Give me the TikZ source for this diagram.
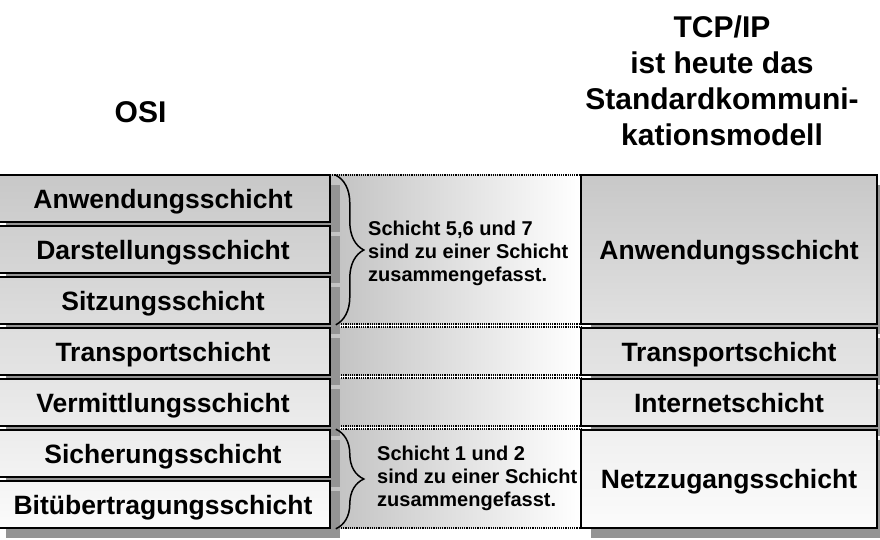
\documentclass[tikz,border=0pt]{standalone}
\usepackage{fontspec}
\setmainfont{Liberation Sans}
\usetikzlibrary{shadows,decorations.pathreplacing}
\begin{document}
\begin{tikzpicture}[x=1pt,y=-1pt,
  layer/.style={draw=black, line width=1.6pt, inner sep=0pt,
    text height=19pt, text depth=0pt,
    font=\fontsize{26.5}{30}\selectfont\bfseries,
    drop shadow={shadow xshift=10pt, shadow yshift=-10pt, fill=black!42, opacity=1}},
  leftlayer/.style={layer, minimum width=334pt, minimum height=47pt},
  rightlayer/.style={layer, minimum width=296pt},
  gap/.style={left color=black!24, right color=white},
  dotline/.style={draw=black, line width=1.1pt, dash pattern=on 1.1pt off 1.1pt},
  brc/.style={draw=black, line width=1.5pt, decorate, decoration={brace, amplitude=28pt, aspect=0.5}},
  note/.style={align=left, inner sep=0pt, anchor=north west, font=\fontsize{20}{23}\selectfont\bfseries},
  head/.style={align=center, inner sep=0pt, font=\fontsize{30}{36}\selectfont\bfseries}
]
\useasboundingbox[fill=white] (0,0) rectangle (880,540);

% middle band
\shade[gap] (330,175) rectangle (581,324);
\shade[gap] (330,327) rectangle (581,375);
\shade[gap] (330,378) rectangle (581,426);
\shade[gap] (330,429) rectangle (581,528);
\foreach \yy in {175,324,327,375,378,426,429,528}
  \draw[dotline] (330,\yy) -- (581,\yy);

% OSI column
\node[leftlayer, top color=black!21.6, bottom color=black!18.8] (o7) at (163,198.5) {Anwendungsschicht};
\node[leftlayer, top color=black!18.8, bottom color=black!16.1] (o6) at (163,249.5) {Darstellungsschicht};
\node[leftlayer, top color=black!16.1, bottom color=black!13.3] (o5) at (163,300.5) {Sitzungsschicht};
\node[leftlayer, top color=black!12.9, bottom color=black!10.6] (o4) at (163,351.5) {Transportschicht};
\node[leftlayer, top color=black!10.2, bottom color=black!7.5] (o3) at (163,402.5) {Vermittlungsschicht};
\node[leftlayer, top color=black!7.5, bottom color=black!4.7] (o2) at (163,453.5) {Sicherungsschicht};
\node[leftlayer, top color=black!4.3, bottom color=black!1.5] (o1) at (163,504.5) {Bitübertragungsschicht};

% TCP/IP column
\node[rightlayer, minimum height=149pt, top color=black!21.6, bottom color=black!12] (t4) at (729,249.5) {Anwendungsschicht};
\node[rightlayer, minimum height=47pt, top color=black!12.9, bottom color=black!10.6] (t3) at (729,351.5) {Transportschicht};
\node[rightlayer, minimum height=47pt, top color=black!10.2, bottom color=black!7.5] (t2) at (729,402.5) {Internetschicht};
\node[rightlayer, minimum height=98pt, top color=black!6, bottom color=black!1.5] (t1) at (729,479) {Netzzugangsschicht};

% braces
\path (o7.north east) ++(5,1) coordinate (b1s);
\path (o5.south east) ++(5,0) coordinate (b1e);
\draw[brc] (b1s) -- (b1e);
\path (o2.north east) ++(5,0) coordinate (b2s);
\path (o1.south east) ++(5,0) coordinate (b2e);
\draw[brc] (b2s) -- (b2e);

% notes
\node[note] (n1) at (368,221) {Schicht 5,6 und 7\\sind zu einer Schicht\\zusammengefasst.};
\node[note] (n2) at (377,446) {Schicht 1 und 2\\sind zu einer Schicht\\zusammengefasst.};

% headings
\node[head, anchor=base] (osi) at (140.5,123) {OSI};
\node[head, anchor=north] (tcp) at (722,15.5) {TCP/IP\\ist heute das\\Standardkommuni-\\kationsmodell};
\end{tikzpicture}
\end{document}
